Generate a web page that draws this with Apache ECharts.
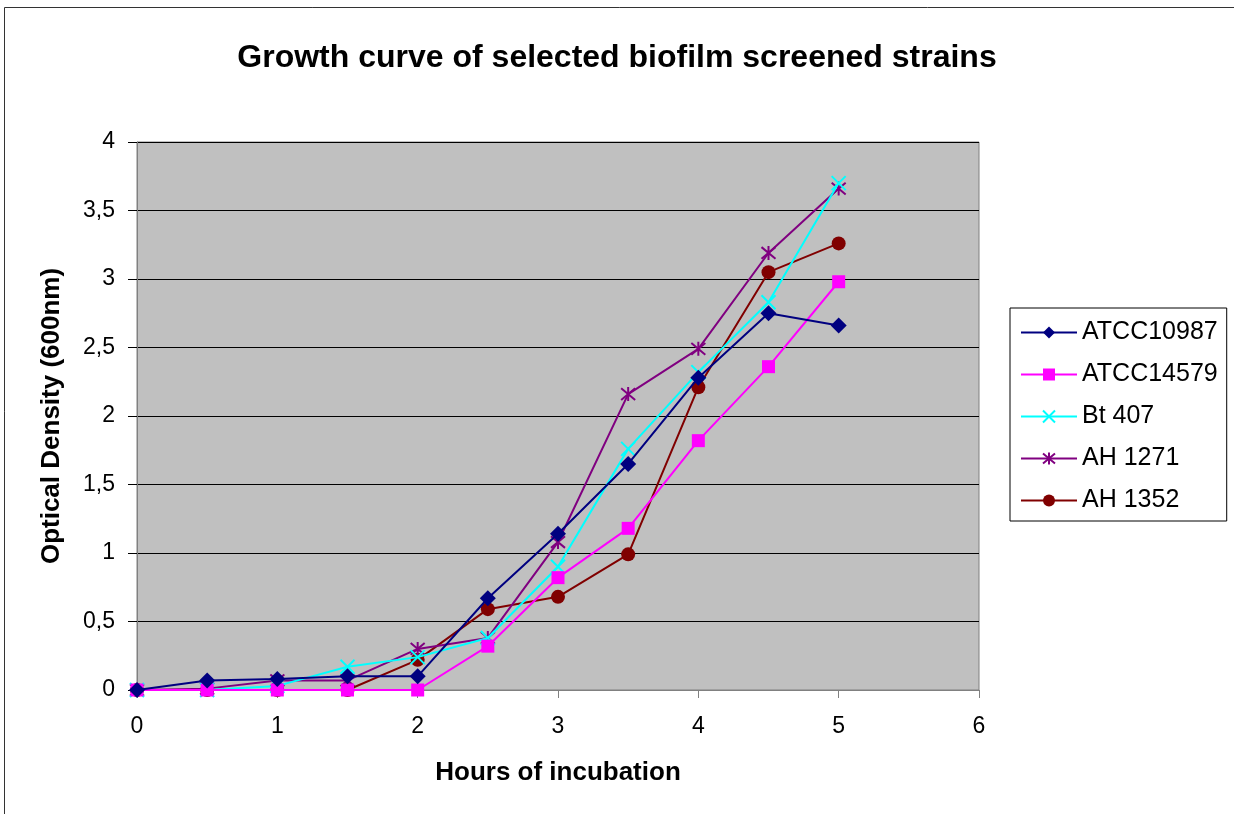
<!DOCTYPE html>
<html>
<head>
<meta charset="utf-8">
<script src="https://cdn.jsdelivr.net/npm/echarts@6/dist/echarts.min.js"></script>
<style>html,body{margin:0;padding:0;background:#fff;}#c{width:1234px;height:814px;}</style>
</head>
<body>
<div id="c"></div>
<script>
const hours = [0, 0.5, 1, 1.5, 2, 2.5, 3, 3.5, 4, 4.5, 5];
const seriesNames = ['ATCC10987', 'ATCC14579', 'Bt 407', 'AH 1271', 'AH 1352'];
const atcc10987 = [0, 0.07, 0.08, 0.1, 0.1, 0.67, 1.14, 1.65, 2.28, 2.75, 2.66];
const atcc14579 = [0, 0, 0, 0, 0, 0.32, 0.82, 1.18, 1.82, 2.36, 2.98];
const bt407 = [0, 0, 0.03, 0.17, 0.24, 0.38, 0.9, 1.76, 2.32, 2.83, 3.7];
const ah1271 = [0, 0.01, 0.07, 0.07, 0.3, 0.38, 1.08, 2.16, 2.49, 3.19, 3.66];
const ah1352 = [0, 0, 0, 0, 0.22, 0.59, 0.68, 0.99, 2.21, 3.05, 3.26];
const yTicks = [0, 0.5, 1, 1.5, 2, 2.5, 3, 3.5, 4];

const values = [atcc10987, atcc14579, bt407, ah1271, ah1352];
const colors = ['#000080', '#FF00FF', '#00FFFF', '#800080', '#800000'];
const symbols = ['diamond', 'rect', 'path://M0,0L10,10M10,0L0,10', 'path://M0,0L10,10M10,0L0,10M5,-1L5,11', 'circle'];
const sizes = [16, 13, 14, 14, 14];

const chart = echarts.init(document.getElementById('c'), null, {renderer: 'canvas'});
const font = 'Arial, "Liberation Sans", sans-serif';
chart.setOption({
  animation: false,
  backgroundColor: '#fff',
  title: {
    text: 'Growth curve of selected biofilm screened strains',
    left: 'center', top: 37,
    textStyle: {fontFamily: font, fontWeight: 'bold', fontSize: 32, color: '#000'}
  },
  graphic: [{
    type: 'rect', shape: {x: 4.5, y: 7.5, width: 1260, height: 840},
    style: {fill: 'none', stroke: '#333', lineWidth: 1}, silent: true, z: -1
  }],
  grid: {
    left: 137, right: 255, top: 142, bottom: 124,
    show: true, backgroundColor: '#C0C0C0', borderColor: '#808080', borderWidth: 1
  },
  legend: {
    orient: 'vertical', left: 1010, top: 308,
    data: seriesNames,
    backgroundColor: '#fff', borderColor: '#000', borderWidth: 1,
    padding: [12, 9, 8, 10],
    itemWidth: 56, itemHeight: 15, itemGap: 17,
    textStyle: {fontFamily: font, fontSize: 25, color: '#000'}
  },
  xAxis: {
    type: 'value', min: 0, max: 6, interval: 1,
    name: 'Hours of incubation', nameLocation: 'middle', nameGap: 70,
    nameTextStyle: {fontFamily: font, fontWeight: 'bold', fontSize: 26, color: '#000'},
    axisLine: {lineStyle: {color: '#808080', width: 1}},
    axisTick: {show: true, length: 8, lineStyle: {color: '#808080'}},
    axisLabel: {fontFamily: font, fontSize: 23, color: '#000', margin: 25},
    splitLine: {show: false}
  },
  yAxis: {
    type: 'value', min: 0, max: 4, interval: 0.5,
    name: 'Optical Density (600nm)', nameLocation: 'middle', nameGap: 72,
    nameTextStyle: {fontFamily: font, fontWeight: 'bold', fontSize: 26, color: '#000'},
    axisLine: {show: true, lineStyle: {color: '#808080', width: 1}},
    axisTick: {show: true, length: 9, lineStyle: {color: '#000'}},
    axisLabel: {
      fontFamily: font, fontSize: 23, color: '#000', margin: 22,
      formatter: v => yTicks.includes(v) ? String(v).replace('.', ',') : ''
    },
    splitLine: {show: true, lineStyle: {color: '#000', width: 1}}
  },
  series: seriesNames.map((name, i) => ({
    name: name, type: 'line',
    data: hours.map((h, j) => [h, values[i][j]]),
    symbol: symbols[i], symbolSize: sizes[i],
    showAllSymbol: true,
    lineStyle: {color: colors[i], width: 2},
    itemStyle: {color: colors[i], borderColor: colors[i], borderWidth: (i === 2 || i === 3) ? 2 : 0},
    emphasis: {disabled: true},
    z: 2 + (5 - i)
  }))
});
</script>
</body>
</html>
